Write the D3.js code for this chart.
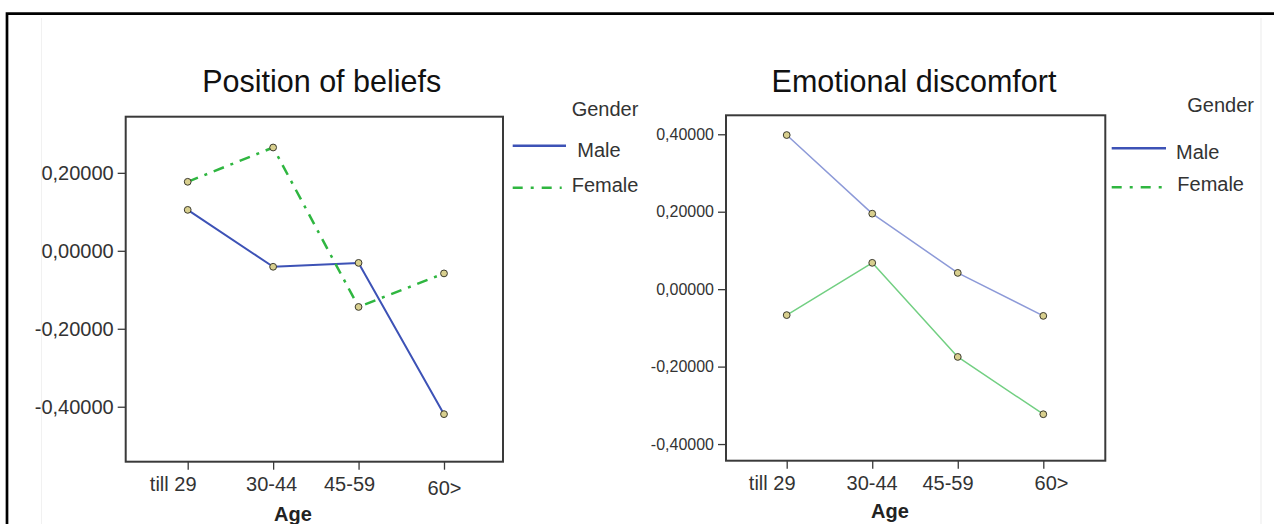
<!DOCTYPE html>
<html>
<head>
<meta charset="utf-8">
<script src="https://cdn.jsdelivr.net/npm/d3@7"></script>
<style>
  body { margin: 0; background: #fff; }
  svg { display: block; font-family: "Liberation Sans", Arial, Helvetica, sans-serif; }
</style>
</head>
<body>
<svg id="chart" width="1274" height="524"></svg>
<script>
// Age groups on the x axis and the two gender series
const ageGroups = ["till 29", "30-44", "45-59", "60>"];
const genders = ["Male", "Female"];

// Mean scores per age group
const beliefsMale = [0.105, -0.041, -0.031, -0.419];
const beliefsFemale = [0.177, 0.265, -0.144, -0.058];
const discomfortMale = [0.398, 0.195, 0.042, -0.069];
const discomfortFemale = [-0.067, 0.068, -0.175, -0.323];

// Y tick values and axis extents
const beliefsTicks = [0.2, 0, -0.2, -0.4];
const discomfortTicks = [0.4, 0.2, 0, -0.2, -0.4];
const beliefsExtent = [-0.541, 0.344];
const discomfortExtent = [-0.443, 0.449];

const fmt = d3.formatLocale({
  decimal: ",", thousands: ".", grouping: [3], currency: ["", ""], minus: "-"
}).format(".5f");

const panels = [
  {
    title: "Position of beliefs", male: beliefsMale, female: beliefsFemale,
    ticks: beliefsTicks, extent: beliefsExtent,
    box: { x0: 125.7, x1: 503, y0: 116.7, y1: 461.7 },
    xRange: [187.7, 444], titleX: 321.7, yFont: 20,
    nudge: [[-15, 0], [-2, 0], [-9.5, 0], [0, 4]],
    ageX: 293, ageY: 521,
    male_: { color: "#3d52b6", width: 2, dash: null },
    female_: { color: "#2fb640", width: 2.5, dash: "11,7,3,7" },
    legend: { x0: 512.7, maleX1: 566, femX1: 561.7, maleY: 145.7, femY: 187.7,
      genderPos: [571.7, 116], malePos: [577.3, 156.7], femPos: [571.7, 191.7], clip: 640 }
  },
  {
    title: "Emotional discomfort", male: discomfortMale, female: discomfortFemale,
    ticks: discomfortTicks, extent: discomfortExtent,
    box: { x0: 726, x1: 1105.3, y0: 115.3, y1: 460.7 },
    xRange: [786.7, 1043.3], titleX: 914, yFont: 16,
    nudge: [[-15, 0], [-0.6, 0], [-10.3, 0], [7.7, 0]],
    ageX: 890, ageY: 518,
    male_: { color: "#8d9ad8", width: 1.5, dash: null },
    female_: { color: "#72cf82", width: 1.5, dash: null },
    legend: { x0: 1111.7, maleX1: 1166, femX1: 1161.7, maleY: 148.3, femY: 187.3,
      genderPos: [1187.3, 112.3], malePos: [1176, 159], femPos: [1177.3, 191], clip: 1274 }
  }
];

const svg = d3.select("#chart");

// Outer frame and faint page guides
svg.append("line").attr("x1", 41.5).attr("x2", 41.5).attr("y1", 18).attr("y2", 524)
  .attr("stroke", "#f1f1f1").attr("stroke-width", 1);
svg.append("line").attr("x1", 1261).attr("x2", 1261).attr("y1", 18).attr("y2", 524)
  .attr("stroke", "#ebebeb").attr("stroke-width", 1);
svg.append("path").attr("d", "M7,524V13.7H1274")
  .attr("fill", "none").attr("stroke", "#000").attr("stroke-width", 2.7);

panels.forEach((p, i) => {
  const g = svg.append("g");
  const x = d3.scalePoint().domain(ageGroups).range(p.xRange);
  const y = d3.scaleLinear().domain(p.extent).range([p.box.y1, p.box.y0]);

  // Title
  g.append("text").attr("x", p.titleX).attr("y", 91.7).attr("text-anchor", "middle")
    .attr("font-size", 30.5).attr("fill", "#111").text(p.title);

  // Plot frame
  g.append("rect").attr("x", p.box.x0).attr("y", p.box.y0)
    .attr("width", p.box.x1 - p.box.x0).attr("height", p.box.y1 - p.box.y0)
    .attr("fill", "#fff").attr("stroke", "#3a3a3a").attr("stroke-width", 2);

  // Y axis
  const yAxis = g.append("g").attr("transform", `translate(${p.box.x0},0)`)
    .call(d3.axisLeft(y).tickValues(p.ticks).tickSize(8).tickPadding(4).tickFormat(fmt));
  yAxis.select(".domain").remove();
  yAxis.selectAll("line").attr("stroke", "#3a3a3a").attr("stroke-width", 1.3);
  yAxis.selectAll("text").attr("font-size", p.yFont).attr("fill", "#333")
    .attr("font-family", "Liberation Sans, Arial, sans-serif");

  // X axis
  const xAxis = g.append("g").attr("transform", `translate(0,${p.box.y1})`)
    .call(d3.axisBottom(x).tickSize(8).tickPadding(7));
  xAxis.select(".domain").remove();
  xAxis.selectAll("line").attr("stroke", "#3a3a3a").attr("stroke-width", 1.3);
  xAxis.selectAll("text").attr("font-size", 20).attr("fill", "#333")
    .attr("font-family", "Liberation Sans, Arial, sans-serif")
    .attr("dx", (d, k) => p.nudge[k][0])
    .attr("transform", (d, k) => `translate(0,${p.nudge[k][1]})`);

  g.append("text").attr("x", p.ageX).attr("y", p.ageY).attr("text-anchor", "middle")
    .attr("font-size", 20).attr("font-weight", "bold").attr("fill", "#222").text("Age");

  // Series lines
  const line = d3.line().x((d, k) => x(ageGroups[k])).y(d => y(d));
  [[p.male, p.male_], [p.female, p.female_]].forEach(([vals, st]) => {
    g.append("path").datum(vals).attr("d", line).attr("fill", "none")
      .attr("stroke", st.color).attr("stroke-width", st.width)
      .attr("stroke-dasharray", st.dash).attr("stroke-linejoin", "round");
  });

  // Point markers
  [p.male, p.female].forEach(vals => {
    g.selectAll(null).data(vals).join("circle")
      .attr("cx", (d, k) => x(ageGroups[k])).attr("cy", d => y(d)).attr("r", 3.4)
      .attr("fill", "#d8cf8e").attr("stroke", "#3b3a2e").attr("stroke-width", 1);
  });

  // Legend
  const L = p.legend;
  svg.append("clipPath").attr("id", "legclip" + i).append("rect")
    .attr("x", 0).attr("y", 0).attr("width", L.clip).attr("height", 524);
  const lg = svg.append("g").attr("clip-path", `url(#legclip${i})`);
  lg.append("text").attr("x", L.genderPos[0]).attr("y", L.genderPos[1])
    .attr("font-size", 20).attr("fill", "#333").text("Gender");
  lg.append("line").attr("x1", L.x0).attr("x2", L.maleX1).attr("y1", L.maleY).attr("y2", L.maleY)
    .attr("stroke", "#3d52b6").attr("stroke-width", 2.5);
  lg.append("text").attr("x", L.malePos[0]).attr("y", L.malePos[1])
    .attr("font-size", 20).attr("fill", "#333").text(genders[0]);
  lg.append("line").attr("x1", L.x0).attr("x2", L.femX1).attr("y1", L.femY).attr("y2", L.femY)
    .attr("stroke", "#2fb640").attr("stroke-width", 2.5).attr("stroke-dasharray", "10,8,3,8");
  lg.append("text").attr("x", L.femPos[0]).attr("y", L.femPos[1])
    .attr("font-size", 20).attr("fill", "#333").text(genders[1]);
});
</script>
</body>
</html>
